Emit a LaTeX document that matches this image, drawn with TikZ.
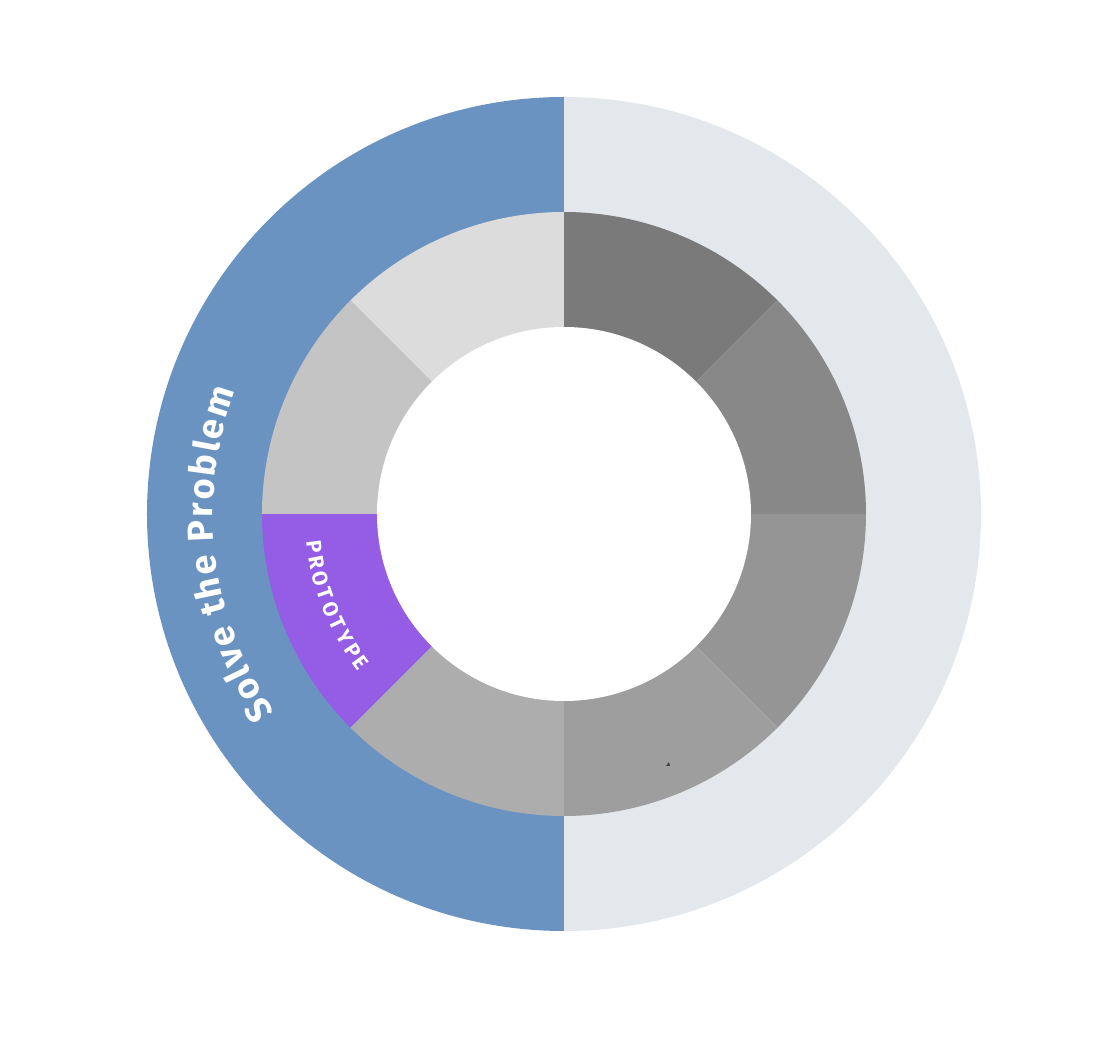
\documentclass[tikz,border=0pt]{standalone}
\usepackage{fontspec}
\setmainfont{Fira Sans}
\usetikzlibrary{decorations.text}
\definecolor{outerblue}{HTML}{6B93C2}
\definecolor{outergray}{HTML}{E4E8EC}
\definecolor{segA}{HTML}{7A7A7A}
\definecolor{segB}{HTML}{888888}
\definecolor{segC}{HTML}{959595}
\definecolor{segD}{HTML}{9E9E9E}
\definecolor{segE}{HTML}{ADADAD}
\definecolor{segF}{HTML}{955CE6}
\definecolor{segG}{HTML}{C4C4C4}
\definecolor{segH}{HTML}{DCDCDC}
\tikzset{
  sector/.style={draw=none},
}
\newcommand{\ringsector}[3]{% color, start, end
  \fill[sector,#1] (0,0) -- (#2:302) arc[start angle=#2, end angle=#3, radius=302] -- cycle;}
\begin{document}
\begin{tikzpicture}[x=1pt,y=1pt]
\useasboundingbox (-564,-529) rectangle (553,514);
% outer ring halves
\fill[outergray] (0,417) arc[start angle=90, end angle=-90, radius=417] -- cycle;
\fill[outerblue] (0,417) arc[start angle=90, end angle=270, radius=417] -- cycle;
% middle ring sectors
\ringsector{segA}{45}{90}
\ringsector{segB}{0}{45}
\ringsector{segC}{-45}{0}
\ringsector{segD}{-90}{-45}
\ringsector{segE}{-135}{-90}
\ringsector{segF}{180}{225}
\ringsector{segG}{135}{180}
\ringsector{segH}{90}{135}
% hole
\fill[white] (0,0) circle[radius=187];
% curved labels
\path[decorate, decoration={text along path, text align={fit to path},
  text color=white,
  text={|\bfseries\fontsize{36}{42}\selectfont|Solve the Problem}}]
  (214.5:351) arc[start angle=214.5, end angle=159.5, radius=351];
\path[decorate, decoration={text along path, text align={fit to path},
  text color=white,
  text={|\bfseries\fontsize{21}{25}\selectfont|PROTOTYPE}}]
  (186:259) arc[start angle=186, end angle=217.5, radius=259];
% tiny mark
\fill[black!75] (102,-252) -- (106,-252) -- (105,-248) -- cycle;
\end{tikzpicture}
\end{document}
